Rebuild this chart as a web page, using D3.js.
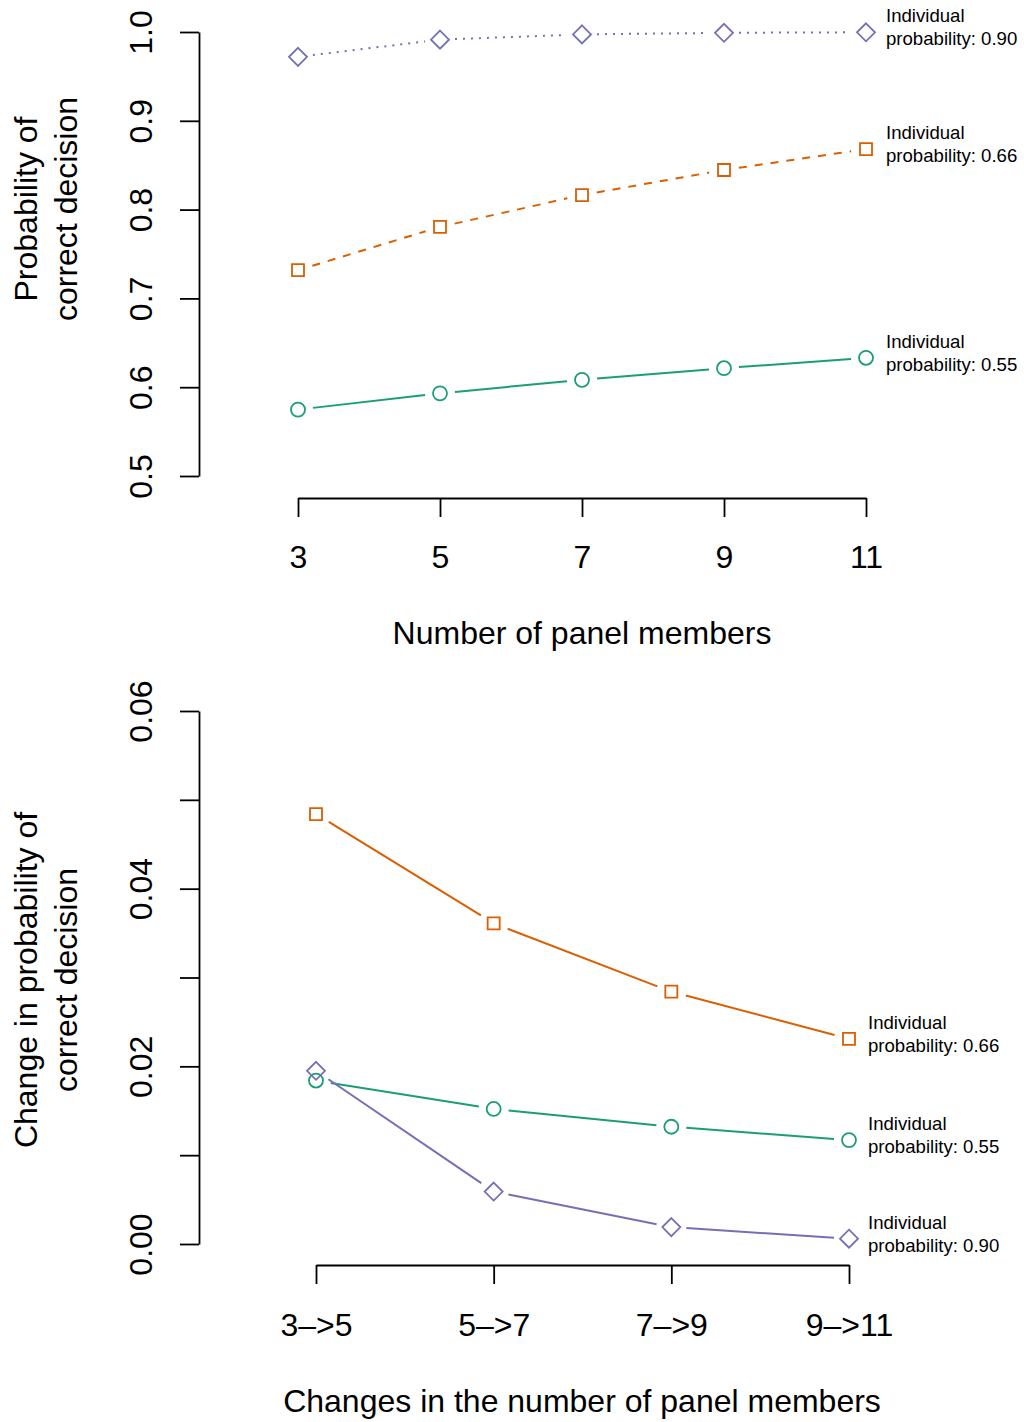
<!DOCTYPE html>
<html>
<head>
<meta charset="utf-8">
<script src="https://cdn.jsdelivr.net/npm/d3@7"></script>
<style>
  body { margin: 0; background: #fff; }
  svg { font-family: "Liberation Sans", Arial, sans-serif; }
</style>
</head>
<body>
<svg id="chart" width="1024" height="1422"></svg>
<script>
// panel sizes
const panelSizes = [3, 5, 7, 9, 11];
const changeLabels = ['3\u2013>5', '5\u2013>7', '7\u2013>9', '9\u2013>11'];

// probability of a correct decision, by individual probability
const prob55 = [0.5748, 0.5931, 0.6083, 0.6214, 0.6331];
const prob66 = [0.7318, 0.7805, 0.8164, 0.8446, 0.8681];
const prob90 = [0.9720, 0.9914, 0.9973, 0.9991, 0.9997];

// change in probability between panel sizes
const diff55 = [0.0184, 0.0152, 0.0132, 0.0117];
const diff66 = [0.0484, 0.0361, 0.0284, 0.0231];
const diff90 = [0.0195, 0.0059, 0.0019, 0.0006];

const topTicks = [0.5, 0.6, 0.7, 0.8, 0.9, 1.0];
const bottomTicks = [0, 0.01, 0.02, 0.03, 0.04, 0.05, 0.06];
const bottomTickLabels = { 0: '0.00', 0.02: '0.02', 0.04: '0.04', 0.06: '0.06' };

const green = '#1B9E77', orange = '#D95F02', purple = '#7570B3';

const svg = d3.select('svg#chart');

const shape = {
  circle: d3.symbol().type(d3.symbolCircle).size(Math.PI * 7 * 7),
  square: d3.symbol().type(d3.symbolSquare).size(12 * 12),
  diamond: () => 'M0,-9L9,0L0,9L-9,0Z'
};

// R type="b": segments stop short of the points
function gappedSegments(pts, gap) {
  const segs = [];
  for (let i = 0; i < pts.length - 1; i++) {
    const [x0, y0] = pts[i], [x1, y1] = pts[i + 1];
    const len = Math.hypot(x1 - x0, y1 - y0);
    if (len <= 2 * gap) continue;
    const ux = (x1 - x0) / len, uy = (y1 - y0) / len;
    segs.push([x0 + ux * gap, y0 + uy * gap, x1 - ux * gap, y1 - uy * gap]);
  }
  return segs;
}

function drawSeries(g, pts, color, marker, dash) {
  g.append('g').selectAll('line').data(gappedSegments(pts, 15))
    .enter().append('line')
      .attr('x1', d => d[0]).attr('y1', d => d[1])
      .attr('x2', d => d[2]).attr('y2', d => d[3])
      .attr('stroke', color)
      .attr('stroke-width', 2)
      .attr('stroke-dasharray', dash);
  g.append('g').selectAll('path').data(pts)
    .enter().append('path')
      .attr('transform', d => `translate(${d[0]},${d[1]})`)
      .attr('d', shape[marker])
      .attr('fill', 'none')
      .attr('stroke', color)
      .attr('stroke-width', 1.8);
}

function annotate(g, x, y, p) {
  g.append('text')
    .attr('x', x).attr('y', y - 10)
    .attr('font-size', 18.6)
    .text('Individual');
  g.append('text')
    .attr('x', x).attr('y', y + 13)
    .attr('font-size', 18.6)
    .text('probability: ' + p);
}

function styleYAxis(axisG) {
  axisG.select('.domain').attr('stroke-width', 1.8);
  axisG.selectAll('.tick line').attr('stroke-width', 1.8);
  axisG.selectAll('.tick text')
    .attr('x', null).attr('dy', null)
    .attr('text-anchor', 'middle')
    .attr('transform', 'translate(-47,0) rotate(-90)')
    .attr('font-size', 32)
    .attr('fill', '#000');
}

function styleXAxis(axisG) {
  axisG.select('.domain').attr('stroke-width', 1.8);
  axisG.selectAll('.tick line').attr('stroke-width', 1.8);
  axisG.selectAll('.tick text').attr('font-size', 32).attr('fill', '#000');
}

function yLabel(lines, cy) {
  svg.append('text')
    .attr('transform', `translate(37,${cy}) rotate(-90)`)
    .attr('text-anchor', 'middle')
    .attr('font-size', 32)
    .text(lines[0]);
  svg.append('text')
    .attr('transform', `translate(77,${cy}) rotate(-90)`)
    .attr('text-anchor', 'middle')
    .attr('font-size', 32)
    .text(lines[1]);
}

// ---------- top panel ----------
const xTop = d3.scaleLinear().domain([3, 11]).range([298, 866]);
const yTop = d3.scaleLinear().domain([0.5, 1.0]).range([476, 32]);
const gTop = svg.append('g');

gTop.append('g')
  .attr('transform', 'translate(199,0)')
  .call(d3.axisLeft(yTop).tickValues(topTicks).tickFormat(d3.format('.1f'))
    .tickSize(19).tickSizeOuter(0))
  .call(styleYAxis);

gTop.append('g')
  .attr('transform', 'translate(0,498)')
  .call(d3.axisBottom(xTop).tickValues(panelSizes).tickFormat(d3.format('d'))
    .tickSize(19).tickSizeOuter(0).tickPadding(28))
  .call(styleXAxis);

const topPts = arr => panelSizes.map((n, i) => [xTop(n), yTop(arr[i])]);
drawSeries(gTop, topPts(prob55), green, 'circle', null);
drawSeries(gTop, topPts(prob66), orange, 'square', '8,8');
drawSeries(gTop, topPts(prob90), purple, 'diamond', '2,6');

annotate(gTop, xTop(11) + 20, yTop(prob90[4]), '0.90');
annotate(gTop, xTop(11) + 20, yTop(prob66[4]), '0.66');
annotate(gTop, xTop(11) + 20, yTop(prob55[4]), '0.55');

gTop.append('text')
  .attr('x', 582).attr('y', 644)
  .attr('text-anchor', 'middle')
  .attr('font-size', 32)
  .text('Number of panel members');

yLabel(['Probability of', 'correct decision'], 209);

// ---------- bottom panel ----------
const xBot = d3.scalePoint().domain(changeLabels).range([316, 849]);
const yBot = d3.scaleLinear().domain([0, 0.06]).range([1244, 711]);
const gBot = svg.append('g');

gBot.append('g')
  .attr('transform', 'translate(199,0)')
  .call(d3.axisLeft(yBot).tickValues(bottomTicks)
    .tickFormat(d => bottomTickLabels[d] || '')
    .tickSize(19).tickSizeOuter(0))
  .call(styleYAxis);

gBot.append('g')
  .attr('transform', 'translate(0,1265)')
  .call(d3.axisBottom(xBot).tickSize(19).tickSizeOuter(0).tickPadding(29))
  .call(styleXAxis);

const botPts = arr => changeLabels.map((c, i) => [xBot(c), yBot(arr[i])]);
drawSeries(gBot, botPts(diff66), orange, 'square', null);
drawSeries(gBot, botPts(diff55), green, 'circle', null);
drawSeries(gBot, botPts(diff90), purple, 'diamond', null);

const lastLab = changeLabels[3];
annotate(gBot, xBot(lastLab) + 19, yBot(diff66[3]), '0.66');
annotate(gBot, xBot(lastLab) + 19, yBot(diff55[3]), '0.55');
annotate(gBot, xBot(lastLab) + 19, yBot(diff90[3]), '0.90');

gBot.append('text')
  .attr('x', 582).attr('y', 1412)
  .attr('text-anchor', 'middle')
  .attr('font-size', 32)
  .text('Changes in the number of panel members');

yLabel(['Change in probability of', 'correct decision'], 980);
</script>
</body>
</html>
